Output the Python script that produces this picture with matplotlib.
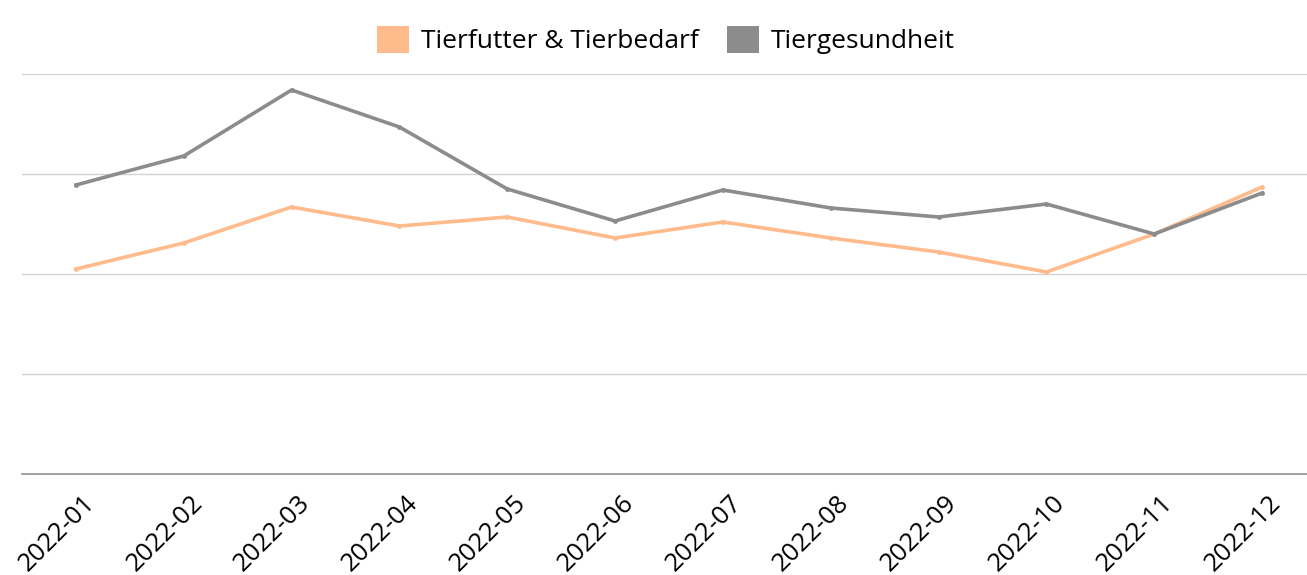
import matplotlib
matplotlib.use("Agg")
import matplotlib.pyplot as plt
from matplotlib.patches import Patch
from matplotlib.transforms import ScaledTranslation

plt.rcParams['font.family'] = ['Open Sans', 'DejaVu Sans']

months = ["2022-01", "2022-02", "2022-03", "2022-04", "2022-05", "2022-06",
          "2022-07", "2022-08", "2022-09", "2022-10", "2022-11", "2022-12"]
tierfutter = [20.5, 23.1, 26.7, 24.8, 25.7, 23.6, 25.2, 23.6, 22.2, 20.2, 24.0, 28.7]
tiergesundheit = [28.9, 31.8, 38.4, 34.7, 28.5, 25.3, 28.4, 26.6, 25.7, 27.0, 24.0, 28.1]
series_names = ["Tierfutter & Tierbedarf", "Tiergesundheit"]
colors = ["#FFBB8C", "#8C8C8C"]

W, H = 1307, 575
fig = plt.figure(figsize=(W / 100, H / 100), dpi=100)
ax = fig.add_axes([22 / W, (H - 474) / H, 1294 / W, 400 / H])

x = list(range(len(months)))
for vals, c in zip([tierfutter, tiergesundheit], colors):
    ax.plot(x, vals, color=c, lw=2.6, marker='o', markersize=3.5,
            markeredgewidth=0, solid_joinstyle='round', zorder=3)

ax.set_xlim(-0.5, len(months) - 0.5)
ax.set_ylim(0, 40)
ax.set_yticks([10, 20, 30, 40])
ax.yaxis.grid(True, color='#d3d3d3', lw=1)
ax.tick_params(axis='y', length=0, labelleft=False)
for s in ['top', 'right', 'left']:
    ax.spines[s].set_visible(False)
ax.spines['bottom'].set_color('#9a9a9a')
ax.spines['bottom'].set_linewidth(1.3)

ax.set_xticks(x)
ax.set_xticklabels(months, rotation=45, ha='right', va='center',
                   rotation_mode='anchor', fontsize=18.5, color='black')
ax.tick_params(axis='x', length=0, pad=18)
off = ScaledTranslation(15 / 100, 0, fig.dpi_scale_trans)
for lab in ax.get_xticklabels():
    lab.set_transform(lab.get_transform() + off)

handles = [Patch(facecolor=c, edgecolor='none') for c in colors]
fig.legend(handles, series_names, loc='center', bbox_to_anchor=(666 / W, 1 - 40 / H),
           ncol=2, frameon=False, fontsize=19, handlelength=1.2, handleheight=1.2,
           handletextpad=0.45, columnspacing=1.1, borderpad=0)

fig.savefig("out.png", dpi=100)
